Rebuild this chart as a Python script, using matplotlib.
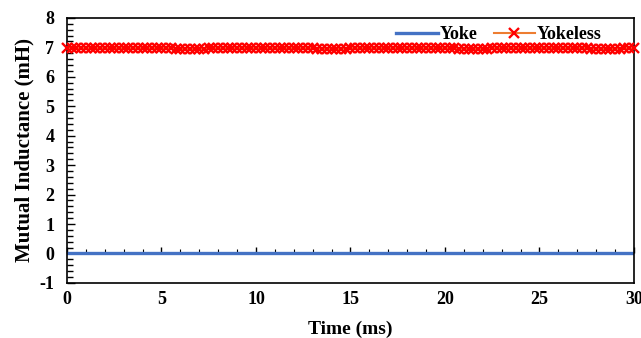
import numpy as np
import matplotlib.pyplot as plt
from matplotlib.ticker import MultipleLocator

plt.rcParams['font.family'] = ['Liberation Serif', 'DejaVu Serif']
plt.rcParams['font.weight'] = 'bold'
plt.rcParams['axes.unicode_minus'] = False

# time axis (ms), sample every 0.25 ms
time = np.arange(0, 30.001, 0.25)

# mutual inductance (mH)
yokeless = [
    6.97, 6.97, 6.97, 6.97, 6.97, 6.97, 6.97, 6.97, 6.97, 6.97, 6.97, 6.97,
    6.97, 6.97, 6.97, 6.97, 6.97, 6.97, 6.97, 6.97, 6.97, 6.97, 6.97, 6.96,
    6.95, 6.94, 6.94, 6.94, 6.95, 6.96, 6.97, 6.97, 6.97, 6.97, 6.97, 6.97,
    6.97, 6.97, 6.97, 6.97, 6.97, 6.97, 6.97, 6.97, 6.97, 6.97, 6.97, 6.97,
    6.97, 6.97, 6.97, 6.97, 6.97, 6.96, 6.95, 6.94, 6.94, 6.94, 6.95, 6.96,
    6.97, 6.97, 6.97, 6.97, 6.97, 6.97, 6.97, 6.97, 6.97, 6.97, 6.97, 6.97,
    6.97, 6.97, 6.97, 6.97, 6.97, 6.97, 6.97, 6.97, 6.97, 6.97, 6.97, 6.96,
    6.95, 6.94, 6.94, 6.94, 6.95, 6.96, 6.97, 6.97, 6.97, 6.97, 6.97, 6.97,
    6.97, 6.97, 6.97, 6.97, 6.97, 6.97, 6.97, 6.97, 6.97, 6.97, 6.97, 6.97,
    6.97, 6.97, 6.97, 6.96, 6.95, 6.94, 6.94, 6.94, 6.95, 6.96, 6.97, 6.97,
    6.97,
]
yoke = [
    0.0, 0.0, 0.0, 0.0, 0.0, 0.0, 0.0, 0.0, 0.0, 0.0, 0.0, 0.0,
    0.0, 0.0, 0.0, 0.0, 0.0, 0.0, 0.0, 0.0, 0.0, 0.0, 0.0, 0.0,
    0.0, 0.0, 0.0, 0.0, 0.0, 0.0, 0.0, 0.0, 0.0, 0.0, 0.0, 0.0,
    0.0, 0.0, 0.0, 0.0, 0.0, 0.0, 0.0, 0.0, 0.0, 0.0, 0.0, 0.0,
    0.0, 0.0, 0.0, 0.0, 0.0, 0.0, 0.0, 0.0, 0.0, 0.0, 0.0, 0.0,
    0.0, 0.0, 0.0, 0.0, 0.0, 0.0, 0.0, 0.0, 0.0, 0.0, 0.0, 0.0,
    0.0, 0.0, 0.0, 0.0, 0.0, 0.0, 0.0, 0.0, 0.0, 0.0, 0.0, 0.0,
    0.0, 0.0, 0.0, 0.0, 0.0, 0.0, 0.0, 0.0, 0.0, 0.0, 0.0, 0.0,
    0.0, 0.0, 0.0, 0.0, 0.0, 0.0, 0.0, 0.0, 0.0, 0.0, 0.0, 0.0,
    0.0, 0.0, 0.0, 0.0, 0.0, 0.0, 0.0, 0.0, 0.0, 0.0, 0.0, 0.0,
    0.0,
]

fig = plt.figure(figsize=(6.41, 3.38), dpi=100)
ax = fig.add_axes([0.1045, 0.163, 0.8845, 0.784])

ax.plot(time, yoke, color='#4472C4', lw=2.4, marker='_', ms=5,
        markevery=1000, label='Yoke')
ax.plot(time, yokeless, color='#ED7D31', lw=1.5, marker='x', ms=7,
        mec='#FF0000', mew=1.7, label='Yokeless', clip_on=False, zorder=3)

ax.set_xlim(0, 30)
ax.set_ylim(-1, 8)
ax.xaxis.set_major_locator(MultipleLocator(5))
ax.yaxis.set_major_locator(MultipleLocator(1))
ax.yaxis.set_minor_locator(MultipleLocator(0.2))
ax.tick_params(axis='y', which='major', direction='in', length=6, width=1,
               labelsize=13, pad=9)
ax.tick_params(axis='y', which='minor', direction='in', length=4, width=1)
ax.tick_params(axis='x', which='both', length=0, labelsize=13, pad=6)

# x tick marks sit on the y=0 line, like an Excel axis crossing at 0
sec = ax.secondary_xaxis(1 / 9)
sec.spines['bottom'].set_visible(False)
sec.xaxis.set_major_locator(MultipleLocator(5))
sec.xaxis.set_minor_locator(MultipleLocator(1))
sec.tick_params(which='major', direction='in', length=4, width=1,
                labelbottom=False)
sec.tick_params(which='minor', direction='in', length=3, width=0.8,
                labelbottom=False)

for s in ax.spines.values():
    s.set_linewidth(1.2)

ax.set_xlabel('Time (ms)', fontsize=14, fontweight='bold', labelpad=9)
ax.set_ylabel('Mutual Inductance (mH)', fontsize=15, fontweight='bold',
              labelpad=4)

ax.legend(loc='upper right', bbox_to_anchor=(0.972, 1.03), ncol=2,
          frameon=False, prop={'weight': 'bold', 'size': 13},
          handlelength=2.3, columnspacing=0.9, handletextpad=0.1)

fig.savefig('out.png', dpi=100)
